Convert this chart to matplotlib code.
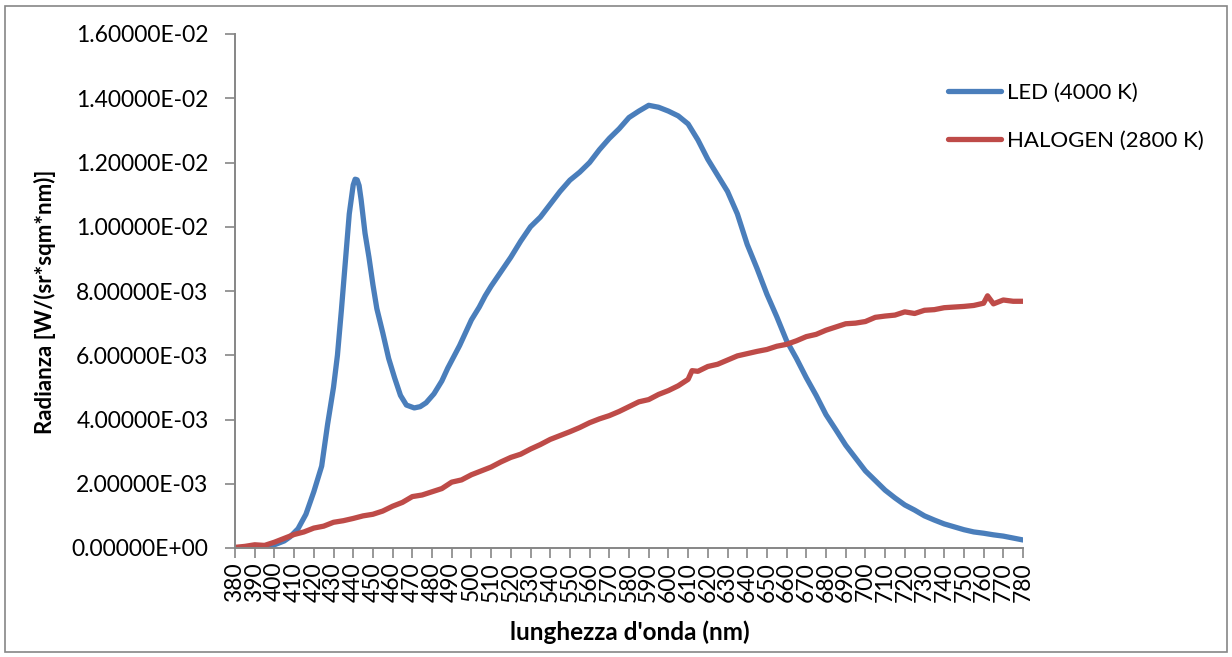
import matplotlib
matplotlib.use("Agg")
import matplotlib.pyplot as plt
from matplotlib.patches import Rectangle
from matplotlib.ticker import FuncFormatter, MultipleLocator

plt.rcParams['font.family'] = ['Lato', 'DejaVu Sans']

wl_led = [380, 385, 390, 395, 400, 405, 408, 412, 416, 420, 424, 427, 430, 432, 434, 436, 438,
          440, 441, 442, 443, 444, 446, 448, 450, 452, 455, 458, 461, 464, 467, 471, 474, 477,
          481, 485, 488, 491, 494, 497, 500, 504, 507, 510, 515, 520, 525,
          530, 535, 540, 545, 550, 555, 560, 565, 570, 575, 580, 585, 590, 595, 600, 605,
          610, 615, 620, 625, 630, 635, 640, 645, 650, 655, 660, 665, 670, 675, 680, 685,
          690, 695, 700, 705, 710, 715, 720, 725, 730, 735, 740, 745, 750, 755, 760, 765,
          770, 775, 780]
led = [0.00000, 0.00000, 0.00000, 0.00003, 0.00010, 0.00022, 0.00035, 0.00060, 0.00105, 0.00175,
       0.00255, 0.00385, 0.00500, 0.00600, 0.00740, 0.00890, 0.01040,
       0.01130, 0.01148, 0.01146, 0.01128, 0.01085, 0.00980, 0.00905, 0.00820, 0.00745, 0.00670,
       0.00590, 0.00530, 0.00475, 0.00445, 0.00436, 0.00440, 0.00452,
       0.00480, 0.00520, 0.00560, 0.00595, 0.00630, 0.00670, 0.00710, 0.00750, 0.00785, 0.00815,
       0.00860, 0.00905, 0.00955,
       0.01000, 0.01030, 0.01070, 0.01110, 0.01145, 0.01170, 0.01200, 0.01240, 0.01275, 0.01305,
       0.01340, 0.01360, 0.01378, 0.01372, 0.01360, 0.01345,
       0.01320, 0.01270, 0.01210, 0.01160, 0.01110, 0.01040, 0.00945, 0.00870, 0.00790, 0.00720,
       0.00645, 0.00590, 0.00530, 0.00475, 0.00415, 0.00368,
       0.00320, 0.00280, 0.00240, 0.00210, 0.00180, 0.00156, 0.00134, 0.00118, 0.00100, 0.00087,
       0.00075, 0.00066, 0.00057, 0.00050, 0.00046, 0.00041,
       0.00037, 0.00031, 0.00025]

wl_hal = [380, 385, 390, 395, 400, 405, 410, 415, 420, 425, 430, 435, 440, 445, 450, 455,
          460, 465, 470, 475, 480, 485, 490, 495, 500, 505, 510, 515, 520, 525, 530, 535,
          540, 545, 550, 555, 560, 565, 570, 575, 580, 585, 590, 595, 600, 605, 610, 612,
          615, 620, 625, 630, 635, 640, 645, 650, 655, 660, 665, 670, 675, 680, 685, 690,
          695, 700, 705, 710, 715, 720, 725, 730, 735, 740, 745, 750, 755, 760, 762, 765,
          770, 775, 780]
halogen = [0.00002, 0.00005, 0.00010, 0.00008, 0.00018, 0.00030, 0.00042, 0.00050, 0.00062, 0.00068,
           0.00080, 0.00085, 0.00092, 0.00100, 0.00105, 0.00115,
           0.00130, 0.00142, 0.00160, 0.00165, 0.00175, 0.00185, 0.00205, 0.00212, 0.00228, 0.00240,
           0.00252, 0.00268, 0.00282, 0.00292, 0.00308, 0.00322,
           0.00338, 0.00350, 0.00362, 0.00375, 0.00390, 0.00402, 0.00412, 0.00425, 0.00440, 0.00455,
           0.00462, 0.00478, 0.00490, 0.00505, 0.00525, 0.00552,
           0.00550, 0.00565, 0.00572, 0.00585, 0.00598, 0.00605, 0.00612, 0.00618, 0.00628, 0.00634,
           0.00645, 0.00658, 0.00665, 0.00678, 0.00688, 0.00698,
           0.00700, 0.00705, 0.00718, 0.00722, 0.00725, 0.00735, 0.00730, 0.00740, 0.00742, 0.00748,
           0.00750, 0.00752, 0.00755, 0.00762, 0.00785, 0.00760,
           0.00772, 0.00768, 0.00768]

x_ticks = list(range(380, 781, 10))

fig = plt.figure(figsize=(12.32, 6.57), dpi=100)
ax = fig.add_axes([235/1232, 1-548/657, 788/1232, 514/657])

ax.plot(wl_led, led, color='#4A7EBB', lw=3.8, solid_capstyle='round', solid_joinstyle='round',
        label='LED (4000 K)')
ax.plot(wl_hal, halogen, color='#BE4B48', lw=3.8, solid_capstyle='round', solid_joinstyle='round',
        label='HALOGEN (2800 K)')

ax.set_xlim(380, 780)
ax.set_ylim(0, 0.016)
ax.set_xticks(x_ticks)
ax.set_xticklabels([str(v) for v in x_ticks], rotation=90, fontsize=16.5)
ax.yaxis.set_major_locator(MultipleLocator(0.002))
def fmt(v, pos):
    return "%.5E" % v
ax.yaxis.set_major_formatter(FuncFormatter(fmt))
ax.tick_params(axis='y', labelsize=16.5, length=7, width=1.2, color='#868686', direction='out', pad=12)
ax.tick_params(axis='x', length=7, width=1.2, color='#868686', direction='out', pad=3)
for s in ['top', 'right']:
    ax.spines[s].set_visible(False)
for s in ['left', 'bottom']:
    ax.spines[s].set_color('#868686')
    ax.spines[s].set_linewidth(1.4)

fig.text(45/1232, 1-302/657, "Radianza [W/(sr*sqm*nm)]", fontsize=16, fontweight='bold',
         rotation=90, ha='center', va='center')
fig.text(630/1232, 1-632/657, "lunghezza d'onda (nm)", fontsize=17.5, fontweight='bold',
         ha='center', va='center')

leg = ax.legend(loc='upper left', bbox_to_anchor=(928/1232, 1-63/657), bbox_transform=fig.transFigure,
                frameon=False, fontsize=16, handlelength=2.4, labelspacing=1.25, handletextpad=0.25)

fig.patches.append(Rectangle((5/1232, 5/657), 1222/1232, 646/657, transform=fig.transFigure,
                             fill=False, edgecolor='#868686', lw=1.2))

fig.savefig('out.png', dpi=100)
